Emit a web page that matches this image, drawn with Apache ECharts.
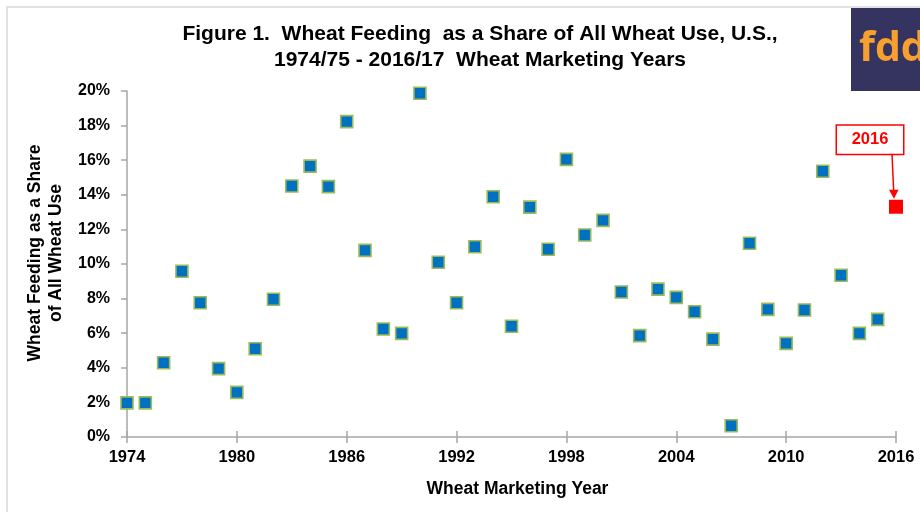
<!DOCTYPE html>
<html>
<head>
<meta charset="utf-8">
<script src="https://cdn.jsdelivr.net/npm/echarts@6/dist/echarts.min.js"></script>
<style>
  html, body { margin: 0; padding: 0; background: #ffffff; }
  #chart { width: 920px; height: 512px; }
</style>
</head>
<body>
<div id="chart"></div>
<script>
// Marketing years (1974 = 1974/75) and wheat feeding share of total wheat use, percent
const years = [1974, 1975, 1976, 1977, 1978, 1979, 1980, 1981, 1982, 1983,
  1984, 1985, 1986, 1987, 1988, 1989, 1990, 1991, 1992, 1993,
  1994, 1995, 1996, 1997, 1998, 1999, 2000, 2001, 2002, 2003,
  2004, 2005, 2006, 2007, 2008, 2009, 2010, 2011, 2012, 2013,
  2014, 2015];
const feedShare = [1.97, 1.97, 4.29, 9.58, 7.76, 3.95, 2.58, 5.10, 7.96, 14.51,
  15.66, 14.47, 18.23, 10.79, 6.24, 5.99, 19.87, 10.10, 7.76, 11.00,
  13.89, 6.40, 13.29, 10.85, 16.05, 11.68, 12.52, 8.38, 5.86, 8.55,
  8.07, 7.24, 5.66, 0.65, 11.20, 7.38, 5.41, 7.34, 15.36, 9.35,
  5.99, 6.80];

// Latest year, highlighted in red
const latestYear = [2016];
const latestShare = [13.31];

// Axis settings
const yearTicks = { min: 1974, max: 2016, interval: 6 };
const shareTicks = { min: 0, max: 20, interval: 2 };

const titleLines = ['Figure 1.  Wheat Feeding  as a Share of All Wheat Use, U.S.,',
                    '1974/75 - 2016/17  Wheat Marketing Years'];
const yName = 'Wheat Feeding as a Share\nof All Wheat Use';
const xName = 'Wheat Marketing Year';

const FONT = '"Liberation Sans", Arial, sans-serif';
const AXIS_GRAY = '#A6A6A6';

const chart = echarts.init(document.getElementById('chart'), null, { renderer: 'canvas' });

const mainPoints = years.map((y, i) => [y, feedShare[i]]);
const latestPoints = latestYear.map((y, i) => [y, latestShare[i]]);

const grid = { left: 127, right: 24, top: 91, bottom: 75 };

chart.setOption({
  animation: false,
  backgroundColor: '#ffffff',
  title: {
    text: titleLines.join('\n'),
    left: 475, top: 16, textAlign: 'center',
    textStyle: { fontFamily: FONT, fontWeight: 'bold', fontSize: 21, lineHeight: 26, color: '#000' }
  },
  grid: grid,
  xAxis: [{
    type: 'value',
    min: yearTicks.min, max: yearTicks.max, interval: yearTicks.interval,
    name: xName, nameLocation: 'middle', nameGap: 43,
    nameTextStyle: { fontFamily: FONT, fontWeight: 'bold', fontSize: 17.5, color: '#000', padding: [0, 0, 0, 12] },
    axisLine: { show: true, lineStyle: { color: AXIS_GRAY, width: 1.5 } },
    axisTick: { show: true, length: 6, lineStyle: { color: AXIS_GRAY, width: 1.5 } },
    axisLabel: { fontFamily: FONT, fontWeight: 'bold', fontSize: 16.5, color: '#000', margin: 12,
                 formatter: v => String(v) },
    splitLine: { show: false }
  }, {
    type: 'value', position: 'bottom',
    min: yearTicks.min, max: yearTicks.max, interval: yearTicks.interval,
    axisLine: { show: false },
    axisTick: { show: true, inside: true, length: 6, lineStyle: { color: AXIS_GRAY, width: 1.5 } },
    axisLabel: { show: false },
    splitLine: { show: false }
  }],
  yAxis: {
    type: 'value',
    min: shareTicks.min, max: shareTicks.max, interval: shareTicks.interval,
    name: yName, nameLocation: 'middle', nameGap: 58, nameRotate: 90,
    nameTextStyle: { fontFamily: FONT, fontWeight: 'bold', fontSize: 17.5, lineHeight: 21, color: '#000',
                     padding: [0, 0, 0, 22] },
    axisLine: { show: true, lineStyle: { color: AXIS_GRAY, width: 1.5 } },
    axisTick: { show: true, length: 6, lineStyle: { color: AXIS_GRAY, width: 1.5 } },
    axisLabel: { fontFamily: FONT, fontWeight: 'bold', fontSize: 16, color: '#000', margin: 17,
                 formatter: v => v + '%' },
    splitLine: { show: false }
  },
  series: [{
    type: 'scatter',
    data: mainPoints,
    symbol: 'rect',
    symbolSize: 12,
    itemStyle: { color: '#0070C0', borderColor: '#9BBB59', borderWidth: 1.6, opacity: 1 },
    z: 3
  }, {
    type: 'scatter',
    data: latestPoints,
    symbol: 'rect',
    symbolSize: 14,
    itemStyle: { color: '#FF0000', opacity: 1 },
    label: {
      show: true,
      position: 'top',
      offset: [-26, -41],
      formatter: p => String(p.value[0]),
      fontFamily: FONT, fontWeight: 'bold', fontSize: 16.5, color: '#FF0000',
      backgroundColor: '#ffffff', borderColor: '#FF0000', borderWidth: 1.5,
      width: 66, height: 28, lineHeight: 28, align: 'center', padding: 0
    },
    z: 4
  }],
  graphic: [{
    // outer frame
    type: 'rect', silent: true,
    shape: { x: 7, y: 7, width: 940, height: 540 },
    style: { fill: 'none', stroke: '#D9D9D9', lineWidth: 1.5 },
    z: 0
  }, {
    // logo block
    type: 'rect', silent: true,
    shape: { x: 851, y: 8, width: 80, height: 83 },
    style: { fill: '#35335F' },
    z: 10
  }, {
    type: 'text', silent: true,
    x: 859, y: 49,
    style: { text: 'fdd', fontFamily: '"Open Sans", "DejaVu Sans", sans-serif', fontWeight: 'bold',
             fontSize: 41, fill: '#F7A030', verticalAlign: 'middle', align: 'left' },
    z: 11
  }]
});

// Arrow from the year callout down to the highlighted point
const tip = chart.convertToPixel({ xAxisIndex: 0, yAxisIndex: 0 }, latestPoints[0]);
chart.setOption({
  graphic: [{}, {}, {}, {
    type: 'line', silent: true,
    shape: { x1: tip[0] - 4, y1: tip[1] - 53, x2: tip[0] - 2.3, y2: tip[1] - 15 },
    style: { stroke: '#FF0000', lineWidth: 1.5 },
    z: 12
  }, {
    type: 'polygon', silent: true,
    shape: { points: [[tip[0] - 7, tip[1] - 17], [tip[0] + 2.5, tip[1] - 17], [tip[0] - 2, tip[1] - 8]] },
    style: { fill: '#FF0000' },
    z: 12
  }]
});
</script>
</body>
</html>
